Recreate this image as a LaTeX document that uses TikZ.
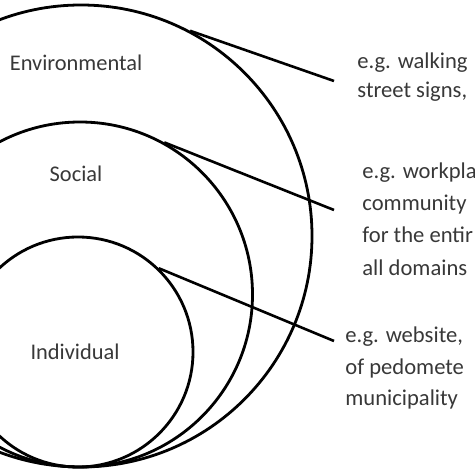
\documentclass[tikz,border=0pt]{standalone}
\usepackage{fontspec}
\setmainfont{Carlito}
\usetikzlibrary{positioning}

\begin{document}
\begin{tikzpicture}[
    x=0.5pt, y=-0.5pt,
    ring/.style={draw, circle, line width=1.4pt, inner sep=0pt,
                 minimum size=#1},
    level/.style={font=\fontsize{11.2}{13}\selectfont, text=black!78},
    example/.style={font=\fontsize{11.3}{#1}\selectfont, text=black!78,
                    align=left, anchor=west, inner sep=0pt},
    link/.style={line width=1.3pt}
  ]

  \useasboundingbox (0,0) rectangle (474,474);

  % Circles
  \node[ring=231pt] (env) at (81,236) {};
  \node[ring=172.5pt] (soc) at (80,294.5) {};
  \node[ring=115pt] (ind) at (78,352) {};

  % Levels
  \node[level] (env_lbl) at (76,63) {Environmental};
  \node[level] (soc_lbl) at (76,174) {Social};
  \node[level] (ind_lbl) at (75,352) {Individual};

  % Examples
  \node[example=14.5pt] (env_ex) at (357,77)
    {e.g. walking\\street signs,};
  \node[example=16.2pt] (soc_ex) at (362,219)
    {e.g. workpla\\community\\for the entir\\all domains};
  \node[example=15.7pt] (ind_ex) at (345,368)
    {e.g. website,\\of pedomete\\municipality};

  \coordinate (env_end) at (334,81);
  \coordinate (soc_end) at (334,210);
  \coordinate (ind_end) at (334,341);

  % Lines
  \draw[link] (env.62) -- (env_end);
  \draw[link] (soc.61) -- (soc_end);
  \draw[link] (ind.46) -- (ind_end);

\end{tikzpicture}
\end{document}
